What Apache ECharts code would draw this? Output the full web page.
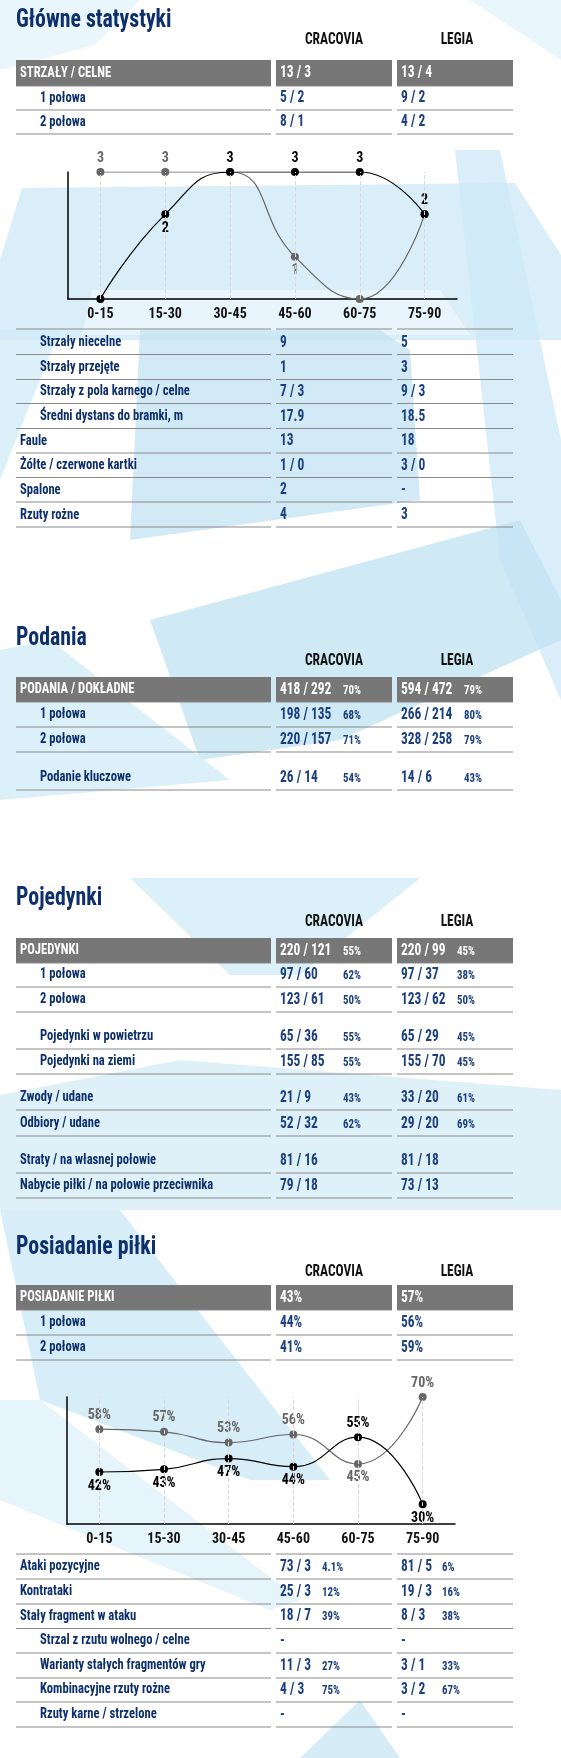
<!DOCTYPE html>
<html><head><meta charset="utf-8">
<script src="https://cdn.jsdelivr.net/npm/echarts@6/dist/echarts.min.js"></script>
<style>html,body{margin:0;padding:0;background:#fff}#c{width:561px;height:1758px}</style>
</head><body><div id="c"></div>
<script>
// ---------- DATA ----------
const periods = ['0-15','15-30','30-45','45-60','60-75','75-90'];
const teams = ['CRACOVIA','LEGIA'];
const shotsCracovia = [0,2,3,3,3,2];
const shotsLegia = [3,3,3,1,0,2];
const possCracovia = [42,43,47,44,55,30];
const possLegia = [58,57,53,56,45,70];

// rows: [label, indent, crac, cracPct, legia, legiaPct, headerRow]
const s1Top = [
  ['STRZAŁY / CELNE',0,'13 / 3','','13 / 4','',1],
  ['1 połowa',1,'5 / 2','','9 / 2','',0],
  ['2 połowa',1,'8 / 1','','4 / 2','',0]
];
const s1Bottom = [
  ['Strzały niecelne',1,'9','','5',''],
  ['Strzały przejęte',1,'1','','3',''],
  ['Strzały z pola karnego / celne',1,'7 / 3','','9 / 3',''],
  ['Średni dystans do bramki, m',1,'17.9','','18.5',''],
  ['Faule',0,'13','','18',''],
  ['Żółte / czerwone kartki',0,'1 / 0','','3 / 0',''],
  ['Spalone',0,'2','','-',''],
  ['Rzuty rożne',0,'4','','3','']
];
const s2Rows = [
  ['PODANIA / DOKŁADNE',0,'418 / 292','70%','594 / 472','79%',1],
  ['1 połowa',1,'198 / 135','68%','266 / 214','80%',0],
  ['2 połowa',1,'220 / 157','71%','328 / 258','79%',0],
  ['Podanie kluczowe',1,'26 / 14','54%','14 / 6','43%',0]
];
const s3Rows = [
  ['POJEDYNKI',0,'220 / 121','55%','220 / 99','45%',1],
  ['1 połowa',1,'97 / 60','62%','97 / 37','38%',0],
  ['2 połowa',1,'123 / 61','50%','123 / 62','50%',0],
  ['Pojedynki w powietrzu',1,'65 / 36','55%','65 / 29','45%',0],
  ['Pojedynki na ziemi',1,'155 / 85','55%','155 / 70','45%',0],
  ['Zwody / udane',0,'21 / 9','43%','33 / 20','61%',0],
  ['Odbiory / udane',0,'52 / 32','62%','29 / 20','69%',0],
  ['Straty / na własnej połowie',0,'81 / 16','','81 / 18','',0],
  ['Nabycie piłki / na połowie przeciwnika',0,'79 / 18','','73 / 13','',0]
];
const s4Top = [
  ['POSIADANIE PIŁKI',0,'43%','','57%','',1],
  ['1 połowa',1,'44%','','56%','',0],
  ['2 połowa',1,'41%','','59%','',0]
];
const s4Bottom = [
  ['Ataki pozycyjne',0,'73 / 3','4.1%','81 / 5','6%'],
  ['Kontrataki',0,'25 / 3','12%','19 / 3','16%'],
  ['Stały fragment w ataku',0,'18 / 7','39%','8 / 3','38%'],
  ['Strzal z rzutu wolnego / celne',1,'-','','-',''],
  ['Warianty stałych fragmentów gry',1,'11 / 3','27%','3 / 1','33%'],
  ['Kombinacyjne rzuty rożne',1,'4 / 3','75%','3 / 2','67%'],
  ['Rzuty karne / strzelone',1,'-','','-','']
];

// ---------- LAYOUT ----------
const F = '"Liberation Sans Narrow","Roboto Condensed",Roboto,sans-serif';
const NAVY = '#0d2f6b', VAL = '#1b3f7f', GRID = '#8a8a8a', HEAD = '#777777';
const C = [[16,271],[276,392],[397,513]];
const SX = 0.84;
const g = [];

const bg = [
  [[0,0],[140,0],[95,45],[0,70],'#e4f4fb'],
  [[470,0],[561,0],[561,60],'#e4f4fb'],
  [[22,188],[515,183],[561,255],[561,340],[0,340],[0,260],'#cfeaf7'],
  [[92,290],[440,290],[470,335],[82,335],'#eef8fc'],
  [[0,330],[60,330],[0,480],'#d2ecf8'],
  [[140,330],[380,330],[410,350],[420,500],[130,540],'#c7e5f4'],
  [[455,150],[500,150],[561,440],[561,700],[500,560],'#cfeaf7'],
  [[150,620],[520,520],[561,600],[561,640],[340,740],[200,760],'#c3e3f3'],
  [[0,650],[50,640],[230,780],[0,800],'#d2ecf8'],
  [[130,878],[420,878],[300,975],[230,975],'#d2ecf8'],
  [[0,1095],[180,1060],[561,1090],[561,1210],[0,1210],'#d6eef8'],
  [[0,1210],[120,1210],[330,1480],[250,1480],[40,1400],'#cde9f6'],
  [[0,1400],[40,1400],[300,1600],[270,1610],[0,1500],'#e0f2fa'],
  [[300,1758],[360,1700],[400,1758],'#cce9f6']
];
bg.forEach(p=>{const col=p[p.length-1];g.push({type:'polygon',z:-10,shape:{points:p.slice(0,-1)},style:{fill:col,opacity:0.8}});});

function txt(x,y,t,font,fill,align){
  g.push({type:'text',x:x,y:y,scaleX:SX,style:{text:t,font:font,fill:fill,textAlign:align||'left',textVerticalAlign:'middle'}});
}
function title(t,y){txt(16,y,t,'bold 26px '+F,NAVY);}
function heads(y){txt(334,y,teams[0],'bold 16px '+F,'#111','center');txt(457,y,teams[1],'bold 16px '+F,'#111','center');}
function line(y){C.forEach(c=>g.push({type:'line',shape:{x1:c[0],y1:y,x2:c[1],y2:y},style:{stroke:GRID,lineWidth:1}}));}
function row(r,bottom,h,pctX1,pctX2){
  const cy=bottom-h/2;
  if(r[6]){C.forEach(c=>g.push({type:'rect',z:-1,shape:{x:c[0],y:bottom-h,width:c[1]-c[0],height:h},style:{fill:HEAD}}));}
  line(bottom);
  const col=r[6]?'#fff':NAVY, vcol=r[6]?'#fff':VAL;
  txt(r[1]?40:20,cy,r[0],'bold 15px '+F,col);
  txt(280,cy,r[2],'bold 16px '+F,vcol);
  txt(401,cy,r[4],'bold 16px '+F,vcol);
  if(r[3])txt(pctX1,cy+1,r[3],'bold 13px '+F,vcol);
  if(r[5])txt(pctX2,cy+1,r[5],'bold 13px '+F,vcol);
}

title('Główne statystyki',20); heads(40);
row(s1Top[0],86,26); row(s1Top[1],110,24); row(s1Top[2],134,24);
line(329);
s1Bottom.forEach((r,i)=>row(r,[354.5,379.5,403.5,428.5,453,477.5,502,527][i],24));
title('Podania',638); heads(661);
row(s2Rows[0],702,25,343,464); row(s2Rows[1],727,25,343,464); row(s2Rows[2],752,25,343,464); row(s2Rows[3],790,25,343,464);
title('Pojedynki',898); heads(922);
[963,987,1012,1049,1074,1110,1136,1173,1198].forEach((y,i)=>row(s3Rows[i],y,25,343,457));
title('Posiadanie piłki',1247); heads(1272);
[1310,1335,1360].forEach((y,i)=>row(s4Top[i],y,25));
line(1554);
[1579,1604,1628.5,1653,1678,1702,1727].forEach((y,i)=>row(s4Bottom[i],y,25,322,442));

// ---------- CHARTS ----------
const vLines = {silent:true,symbol:'none',label:{show:false},lineStyle:{color:'#d8d8d8',type:'dashed',width:1},data:periods.map(p=>({xAxis:p}))};
function lbl(pos,col,fmt){return {show:true,position:pos,color:col,fontFamily:F,fontWeight:'bold',fontSize:14,distance:3,formatter:fmt};}
function pts(vals,positions,col,fmt,hide){
  return vals.map((v,i)=>({value:v,label:hide&&hide[i]?{show:false}:lbl(positions[i],col,fmt)}));
}
const axisX = gi=>({type:'category',gridIndex:gi,data:periods,axisLine:{lineStyle:{color:'#000',width:1.5}},axisTick:{show:false},
  axisLabel:{color:'#111',fontFamily:F,fontWeight:'bold',fontSize:14,margin:8},splitLine:{show:false}});
const chart = echarts.init(document.getElementById('c'));
chart.setOption({
  animation:false,
  graphic:g,
  grid:[{left:68,right:104,top:172,height:127},{left:67,right:106,top:1397,height:127}],
  xAxis:[axisX(0),axisX(1)],
  yAxis:[
    {type:'value',gridIndex:0,min:0,max:3,axisLine:{show:true,lineStyle:{color:'#000',width:1.5}},axisLabel:{show:false},axisTick:{show:false},splitLine:{show:false}},
    {type:'value',gridIndex:1,min:22.6,max:70,axisLine:{show:true,lineStyle:{color:'#000',width:1.5}},axisLabel:{show:false},axisTick:{show:false},splitLine:{show:false}}
  ],
  series:[
    {type:'line',xAxisIndex:0,yAxisIndex:0,smooth:0.5,symbol:'circle',symbolSize:8,color:'#666',lineStyle:{color:'#666',width:1.2},z:2,
      data:pts(shotsLegia,['top','top','top','bottom','top','top'],'#666','{c}',[0,0,1,0,1,1]),markLine:vLines},
    {type:'line',xAxisIndex:0,yAxisIndex:0,smooth:0.5,symbol:'circle',symbolSize:8,color:'#000',lineStyle:{color:'#000',width:1.2},z:3,
      data:pts(shotsCracovia,['top','bottom','top','top','top','top'],'#000','{c}',[1,0,0,0,0,0])},
    {type:'line',xAxisIndex:1,yAxisIndex:1,smooth:0.5,symbol:'circle',symbolSize:8,color:'#666',lineStyle:{color:'#666',width:1.2},z:2,
      data:pts(possLegia,['top','top','top','top','bottom','top'],'#666','{c}%'),markLine:vLines},
    {type:'line',xAxisIndex:1,yAxisIndex:1,smooth:0.5,symbol:'circle',symbolSize:8,color:'#000',lineStyle:{color:'#000',width:1.2},z:3,
      data:pts(possCracovia,['bottom','bottom','bottom','bottom','top','bottom'],'#000','{c}%')}
  ]
});
</script></body></html>
